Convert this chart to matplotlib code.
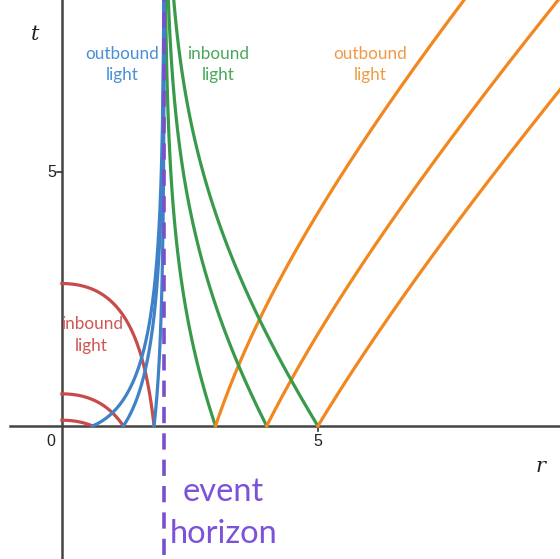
import numpy as np
import matplotlib
matplotlib.use("Agg")
import matplotlib.pyplot as plt

# Schwarzschild radius and the starting radii of the light rays at t = 0
RS = 2.0
inner_starts = [0.6, 1.2, 1.8]   # inside the horizon
outer_starts = [3.0, 4.0, 5.0]   # outside the horizon

BLUE = "#3f82c8"
GREEN = "#3a9a4c"
ORANGE = "#f2871f"
RED = "#c84a4a"
PURPLE = "#7a4fcc"

XMIN, XMAX = -1.21, 9.73
YMIN, YMAX = -2.62, 8.39


def tortoise(r):
    # r* = r + rs ln|r/rs - 1|
    return r + RS * np.log(np.abs(r / RS - 1))


fig = plt.figure(figsize=(5.6, 5.59), dpi=100)
ax = fig.add_axes([0, 0, 1, 1])
ax.set_xlim(XMIN, XMAX)
ax.set_ylim(YMIN, YMAX)
ax.axis("off")

# axes through the origin
ax.plot([-1.02, XMAX], [0, 0], color="#444444", lw=1.8, zorder=1)
ax.plot([0, 0], [YMIN, YMAX], color="#444444", lw=1.8, zorder=1)
ax.plot([5, 5], [0, -0.09], color="#333333", lw=1.2)
ax.plot([0, -0.09], [5, 5], color="#333333", lw=1.2)
ax.text(5, -0.3, "5", ha="center", va="center", fontsize=11.5,
        family="Liberation Sans", color="#222222")
ax.text(-0.12, 5, "5", ha="right", va="center", fontsize=11.5,
        family="Liberation Sans", color="#222222")
ax.text(-0.13, -0.3, "0", ha="right", va="center", fontsize=11.5,
        family="Liberation Sans", color="#222222")
ax.text(-0.52, 7.72, "t", ha="center", va="center", fontsize=15,
        family="DejaVu Serif", style="italic", color="#222222")
ax.text(9.35, -0.8, "r", ha="center", va="center", fontsize=15,
        family="DejaVu Serif", style="italic", color="#222222")

lw = 2.3
for r0 in inner_starts:
    # red: falls to r = 0
    r = np.linspace(0, r0, 300)
    t = tortoise(r) - tortoise(r0)
    ax.plot(r, t, color=RED, lw=lw, zorder=3)
    # blue: creeps up toward the horizon
    r = r0 + (RS - r0) * (1 - np.geomspace(1, 1e-9, 600))
    t = -tortoise(r) + tortoise(r0)
    keep = t < YMAX + 0.5
    ax.plot(r[keep], t[keep], color=BLUE, lw=lw, zorder=4)

for r0 in outer_starts:
    # green: ingoing, approaches the horizon asymptotically
    r = RS + (r0 - RS) * np.geomspace(1, 1e-9, 600)
    t = -tortoise(r) + tortoise(r0)
    keep = t < YMAX + 0.5
    ax.plot(r[keep], t[keep], color=GREEN, lw=lw, zorder=3)
    # orange: outgoing
    r = np.linspace(r0, 11, 400)
    t = tortoise(r) - tortoise(r0)
    ax.plot(r, t, color=ORANGE, lw=lw, zorder=3)

# event horizon
ax.plot([RS, RS], [-2.55, YMAX], color=PURPLE, lw=2.6, ls=(0, (4.5, 2.8)), zorder=5)

lab = dict(ha="center", va="center", fontsize=12.3, family="Lato", linespacing=1.45)
ax.text(1.18, 7.12, "outbound\nlight", color="#4a8fd6", **lab)
ax.text(3.05, 7.12, "inbound\nlight", color="#48a85a", **lab)
ax.text(6.02, 7.12, "outbound\nlight", color="#f09a45", **lab)
ax.text(0.58, 1.8, "inbound\nlight", color="#d05555", **lab)
ax.text(3.15, -1.72, "event\nhorizon", ha="center", va="center", fontsize=23.5,
        family="Lato", color="#7b52d9", linespacing=1.5)

fig.savefig("out.png", dpi=100)
